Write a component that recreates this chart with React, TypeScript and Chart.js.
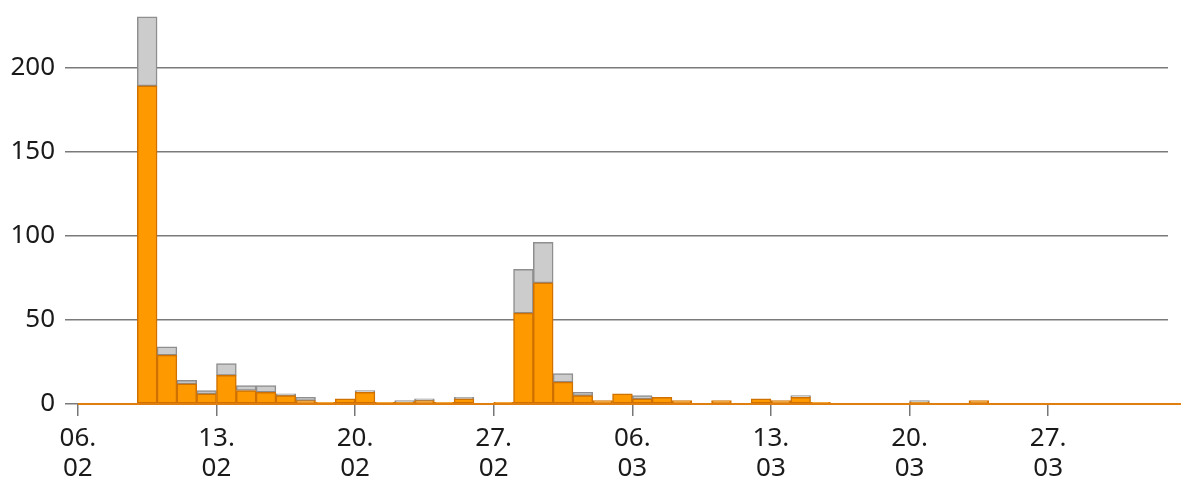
import React, { useEffect, useRef } from 'react';
import { Chart, registerables } from 'chart.js';

Chart.register(...registerables);

// Days from 06.02 (index 0) to 02.04 (index 55)
const dayCount = 56;

const orangeValues = [
  0, 0, 0, 189, 29, 12, 6, 17, 8, 7,
  5, 2, 1, 3, 7, 1, 1, 2, 1, 3,
  0, 1, 54, 72, 13, 5, 2, 6, 3, 4,
  2, 0, 2, 0, 3, 2, 4, 1, 0, 0,
  0, 0, 1, 0, 0, 2, 0, 0, 0, 0,
  0, 0, 0, 0, 0, 0,
];

const grayValues = [
  0, 0, 0, 41, 5, 2, 2, 7, 3, 4,
  1, 2, 0, 0, 1, 0, 1, 1, 0, 1,
  0, 0, 26, 24, 5, 2, 0, 0, 2, 0,
  0, 0, 0, 0, 0, 0, 1, 0, 0, 0,
  0, 0, 1, 0, 0, 0, 0, 0, 0, 0,
  0, 0, 0, 0, 0, 0,
];

const tickDays = [0, 7, 14, 21, 28, 35, 42, 49];
const tickLabels = [
  ['06.', '02'],
  ['13.', '02'],
  ['20.', '02'],
  ['27.', '02'],
  ['06.', '03'],
  ['13.', '03'],
  ['20.', '03'],
  ['27.', '03'],
];
const yTickValues = [0, 50, 100, 150, 200];

export default function App() {
  const ref = useRef<HTMLCanvasElement>(null);

  useEffect(() => {
    document.body.style.margin = '0';
    const font = { family: "'Noto Sans', 'Open Sans', sans-serif", size: 26 };
    const chart = new Chart(ref.current as HTMLCanvasElement, {
      type: 'bar',
      data: {
        datasets: [
          {
            type: 'line',
            label: 'baseline',
            data: [
              { x: 0, y: 0 },
              { x: dayCount, y: 0 },
            ],
            borderColor: '#E07E10',
            borderWidth: 2,
            pointRadius: 0,
            clip: false,
            stack: 'base',
          } as any,
          {
            label: 'orange',
            data: orangeValues.map((v, i) => ({ x: i + 0.5, y: v })),
            backgroundColor: '#FF9900',
            borderColor: '#CF7100',
            borderWidth: 1.5,
            borderSkipped: false,
            stack: 's',
            barPercentage: 1,
            categoryPercentage: 1,
          },
          {
            label: 'gray',
            data: grayValues.map((v, i) => ({ x: i + 0.5, y: v })),
            backgroundColor: '#CCCCCC',
            borderColor: '#8E8E8E',
            borderWidth: 1.5,
            borderSkipped: false,
            stack: 's',
            barPercentage: 1,
            categoryPercentage: 1,
          },
        ],
      },
      options: {
        animation: false,
        responsive: true,
        maintainAspectRatio: false,
        layout: { padding: { top: 0, right: 13, left: 0, bottom: 0 } },
        plugins: {
          legend: { display: false },
          tooltip: { enabled: false },
        },
        scales: {
          x: {
            type: 'linear',
            stacked: true,
            offset: false,
            min: -0.65,
            max: 55.05,
            afterBuildTicks: (axis: any) => {
              axis.ticks = tickDays.map((v) => ({ value: v }));
            },
            afterFit: (axis: any) => {
              axis.height = 74;
              axis.paddingLeft = 0;
              axis.paddingRight = 0;
            },
            grid: {
              offset: false,
              drawOnChartArea: false,
              drawTicks: true,
              tickLength: 12,
              color: '#777777',
              lineWidth: 1.5,
            },
            border: { display: false },
            ticks: {
              autoSkip: false,
              maxRotation: 0,
              padding: 8,
              color: '#1a1a1a',
              font: { ...font, lineHeight: 1.15 },
              callback: (value: any) => {
                const idx = tickDays.indexOf(Number(value));
                return idx >= 0 ? tickLabels[idx] : '';
              },
            },
          },
          y: {
            stacked: true,
            min: 0,
            max: 240,
            afterBuildTicks: (axis: any) => {
              axis.ticks = yTickValues.map((v) => ({ value: v }));
            },
            afterFit: (axis: any) => {
              axis.width = 65;
              axis.paddingTop = 0;
              axis.paddingBottom = 0;
            },
            grid: {
              drawTicks: false,
              color: '#7A7A7A',
              lineWidth: 1.5,
            },
            border: { display: false },
            ticks: {
              padding: 10,
              color: '#1a1a1a',
              font,
            },
          },
        },
      },
    });
    return () => chart.destroy();
  }, []);

  return (
    <div style={{ position: 'fixed', left: 0, top: 0, width: 1181, height: 478 }}>
      <canvas ref={ref} />
    </div>
  );
}
